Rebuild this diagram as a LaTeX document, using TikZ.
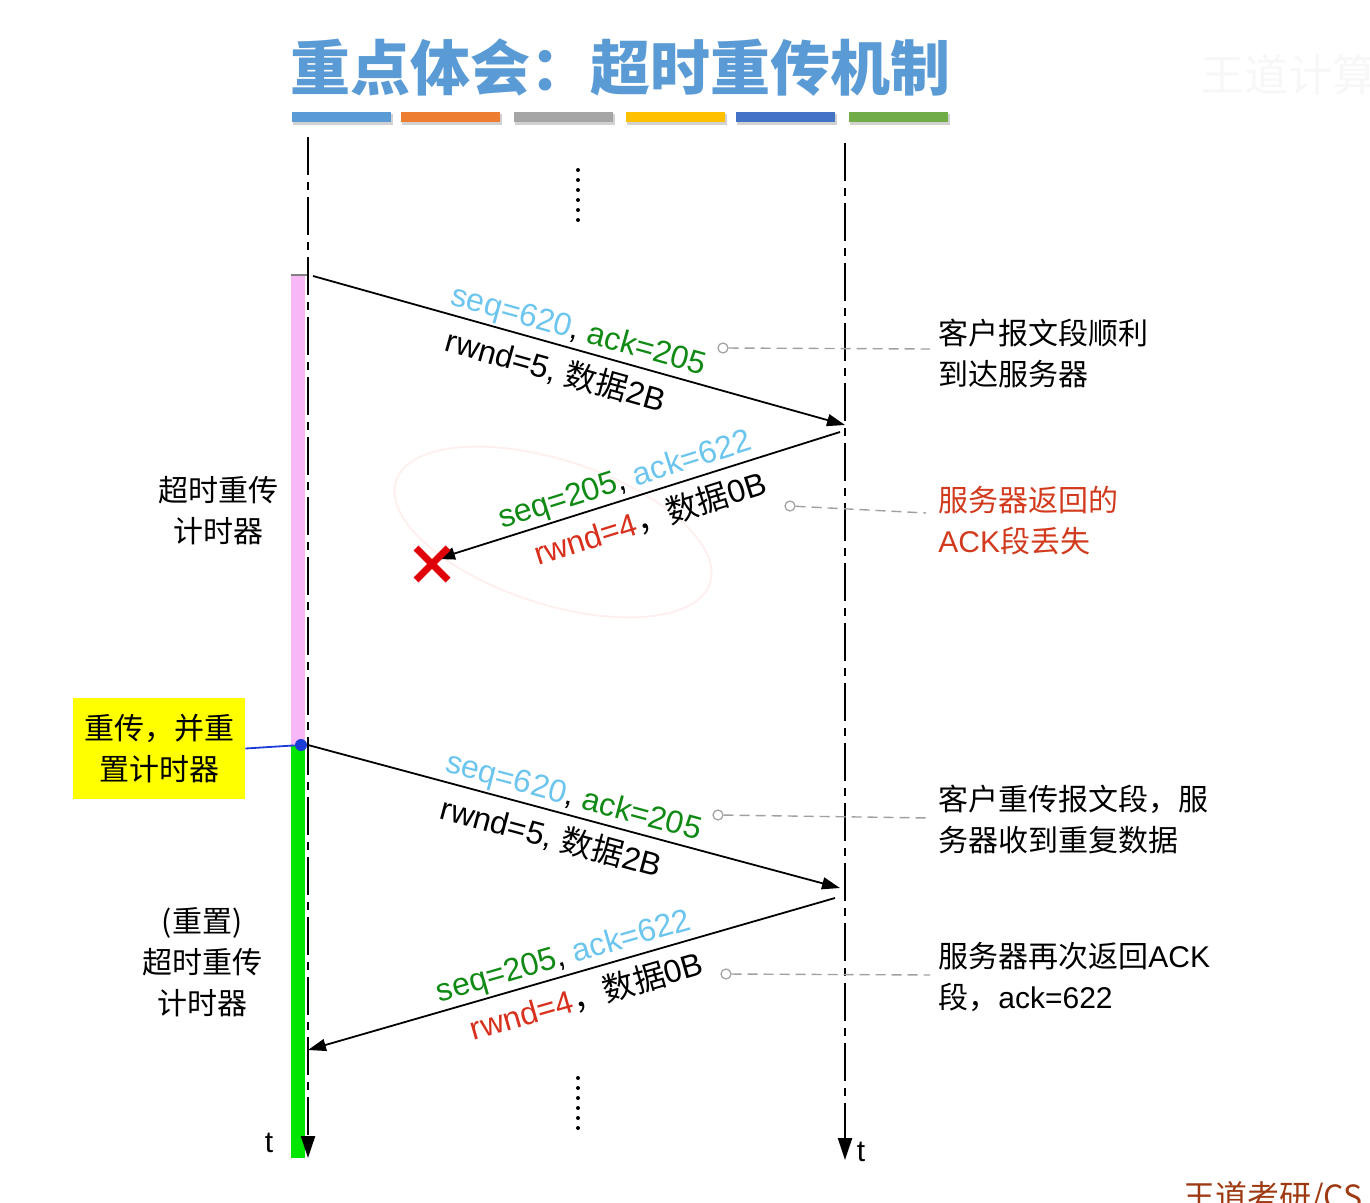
\documentclass[tikz,border=0pt]{standalone}
\usepackage{fontspec}
\setmainfont{Liberation Sans}
\newfontfamily\zhfont{Noto Sans CJK SC}
\usetikzlibrary{arrows.meta}
\definecolor{titleblue}{HTML}{5B9BD5}
\definecolor{barA}{HTML}{5B9BD5}
\definecolor{barB}{HTML}{ED7D31}
\definecolor{barC}{HTML}{A5A5A5}
\definecolor{barD}{HTML}{FFC000}
\definecolor{barE}{HTML}{4472C4}
\definecolor{barF}{HTML}{70AD47}
\definecolor{seqblue}{HTML}{6CC5EE}
\definecolor{ackgreen}{HTML}{108A14}
\definecolor{rwndred}{HTML}{D8301C}
\definecolor{notered}{HTML}{D23A1E}
\definecolor{leadgray}{HTML}{A0A0A0}
\definecolor{timerpink}{HTML}{F8B8F8}
\definecolor{timergreen}{HTML}{00E600}
\definecolor{hiyellow}{HTML}{FFFF00}
\definecolor{resetblue}{HTML}{1A3CD8}
\definecolor{lossred}{HTML}{E0000A}
\definecolor{markbrown}{HTML}{9E3A12}
\newcommand{\zh}[1]{{\zhfont #1}}
\tikzset{
  lifeline/.style={line width=1.2pt, dash pattern=on 19pt off 3.5pt on 4pt off 3.5pt,
    -{Triangle[length=11pt,width=7pt]}},
  msg/.style={line width=0.9pt, -{Triangle[length=9pt,width=6pt]}},
  lbl/.style={font=\fontsize{16}{18}\selectfont, inner sep=0pt, sloped},
  note/.style={font=\zhfont\fontsize{15}{20.5}\selectfont, align=left, anchor=west, inner sep=0pt},
  tlabel/.style={font=\zhfont\fontsize{15}{20.5}\selectfont, align=center, inner sep=0pt},
  ring/.style={circle, draw=leadgray, fill=white, line width=0.6pt, minimum size=5pt, inner sep=0pt},
  leader/.style={draw=leadgray, line width=0.7pt, dash pattern=on 5pt off 3pt},
}
\begin{document}
\begin{tikzpicture}[x=0.5pt, y=-0.5pt]
  \useasboundingbox (0,0) rectangle (1370,1203);

  \node[font=\zhfont\bfseries\fontsize{30}{30}\selectfont, text=titleblue, inner sep=0pt] (title) at (620,68) {重点体会：超时重传机制};
  \foreach \x/\c in {292/barA, 401/barB, 514/barC, 626/barD, 736/barE, 849/barF} {
    \fill[black, opacity=0.18] (\x+1,114) rectangle (\x+101,125);
    \fill[\c] (\x,112) rectangle (\x+99,122);
  }
  \node[font=\zhfont\fontsize{22}{22}\selectfont, text=black!3, anchor=west, inner sep=0pt] (wmark) at (1200,75) {王道计算机};

  % timers
  \fill[timerpink] (291,275) rectangle (305,745);
  \fill[timergreen] (291,745) rectangle (305,1158);
  \draw[gray, line width=0.6pt] (291,275) -- (308,275);

  % lifelines
  \coordinate (ctop) at (308,137);
  \coordinate (cbot) at (308,1158);
  \coordinate (stop) at (845,143);
  \coordinate (sbot) at (845,1160);
  \draw[lifeline] (ctop) -- (cbot);
  \draw[lifeline] (stop) -- (sbot);
  \node[font=\fontsize{15}{15}\selectfont, inner sep=0pt] (tc) at (269,1143) {t};
  \node[font=\fontsize{15}{15}\selectfont, inner sep=0pt] (ts) at (861,1152) {t};
  \foreach \y in {170,180,...,220} \fill (578,\y) circle[radius=1pt];
  \foreach \y in {1078,1088,...,1128} \fill (578,\y) circle[radius=1pt];

  % segments
  \coordinate (c1) at (313,276);
  \coordinate (s1) at (845,425);
  \coordinate (s2) at (840,432);
  \coordinate (x2) at (437,559);
  \coordinate (c3) at (308,745);
  \coordinate (s3) at (840,888);
  \coordinate (s4) at (835,898);
  \coordinate (c4) at (308,1050);

  \draw[red!6, line width=1pt, rotate around={-18:(553,532)}] (553,532) ellipse[x radius=165, y radius=72];

  \draw[msg] (c1) -- node[lbl, above=1pt, pos=.49] (m1a) {\textcolor{seqblue}{seq=620}, \textcolor{ackgreen}{ack=205}}
    node[lbl, below=4.5pt, pos=.47] (m1b) {rwnd=5, \zh{数据}2B} (s1);
  \draw[msg] (s2) -- node[lbl, above=1pt, pos=.52] (m2a) {\textcolor{ackgreen}{seq=205}, \textcolor{seqblue}{ack=622}}
    node[lbl, below=4.5pt, pos=.49] (m2b) {\textcolor{rwndred}{rwnd=4}\zh{，数据}0B} (x2);
  \draw[msg] (c3) -- node[lbl, above=1pt, pos=.49] (m3a) {\textcolor{seqblue}{seq=620}, \textcolor{ackgreen}{ack=205}}
    node[lbl, below=4.5pt, pos=.47] (m3b) {rwnd=5, \zh{数据}2B} (s3);
  \draw[msg] (s4) -- node[lbl, above=1pt, pos=.505] (m4a) {\textcolor{ackgreen}{seq=205}, \textcolor{seqblue}{ack=622}}
    node[lbl, below=4.5pt, pos=.485] (m4b) {\textcolor{rwndred}{rwnd=4}\zh{，数据}0B} (c4);

  \draw[lossred, line width=3.5pt] (416,548) -- (448,580) (448,548) -- (416,580);

  % timer labels
  \node[tlabel] (tmr1) at (218,511) {超时重传\\计时器};
  \node[tlabel] (tmr2) at (202,962) {(重置)\\超时重传\\计时器};
  \node[fill=hiyellow, minimum width=86pt, minimum height=50.5pt, tlabel] (rst) at (159,748.5) {重传，并重\\置计时器};
  \node[circle, fill=resetblue, minimum size=6pt, inner sep=0pt] (rdot) at (301,745) {};
  \draw[resetblue, line width=0.9pt] (rst.east) -- (rdot);

  % notes
  \node[note] (n1) at (938,353) {客户报文段顺利\\到达服务器};
  \node[note, text=notered] (n2) at (938,521) {服务器返回的\\\textrm{ACK}段丢失};
  \node[note] (n3) at (938,820) {客户重传报文段，服\\务器收到重复数据};
  \node[note] (n4) at (938,977) {服务器再次返回\textrm{ACK}\\段，\textrm{ack=622}};
  \node[ring] (o1) at (723,348) {};
  \node[ring] (o2) at (790,506) {};
  \node[ring] (o3) at (718,815) {};
  \node[ring] (o4) at (726,974) {};
  \draw[leader] (o1) -- ([xshift=-4pt,yshift=2pt]n1.west);
  \draw[leader] (o2) -- ([xshift=-6pt,yshift=4pt]n2.west);
  \draw[leader] (o3) -- ([xshift=-4pt,yshift=1pt]n3.west);
  \draw[leader] (o4) -- ([xshift=-4pt,yshift=1pt]n4.west);

  \node[font=\zhfont\fontsize{16}{16}\selectfont, text=markbrown, anchor=west, inner sep=0pt] (mark) at (1183,1198) {王道考研/CS};
\end{tikzpicture}
\end{document}
